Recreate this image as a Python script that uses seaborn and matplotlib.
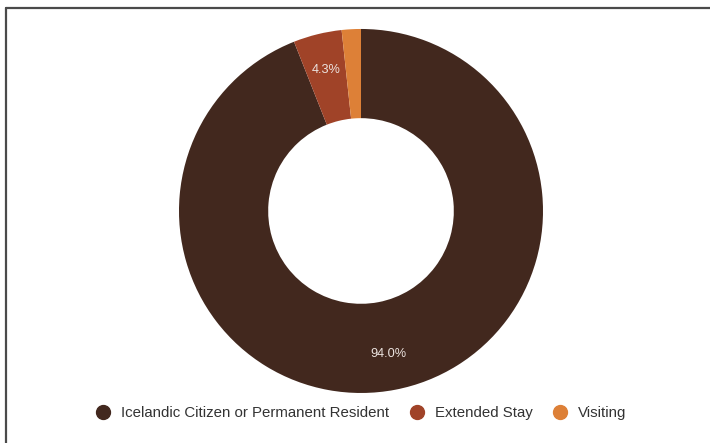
import matplotlib
matplotlib.use("Agg")
import matplotlib.pyplot as plt
from matplotlib.lines import Line2D
import seaborn as sns

categories = ["Icelandic Citizen or Permanent Resident", "Extended Stay", "Visiting"]
shares = [94.0, 4.3, 1.7]
colors = ["#42281e", "#a04328", "#dd8037"]

sns.set_theme(style="white")
plt.rcParams["font.family"] = ["Liberation Sans", "DejaVu Sans"]

fig = plt.figure(figsize=(7.1, 4.43), dpi=100)
fig.patch.set_facecolor("white")

# square axes holding the donut
ax = fig.add_axes([0.2521, 0.1129, 0.5127, 0.8217])


def fmt(p):
    return f"{p:.1f}%" if p >= 3 else ""


wedges, texts, autotexts = ax.pie(
    shares,
    colors=colors,
    startangle=90,
    counterclock=False,
    autopct=fmt,
    pctdistance=0.8,
    wedgeprops=dict(width=0.49, edgecolor="none"),
    textprops=dict(color="#ece4e0", fontsize=9.2),
)
ax.set_xlim(-1, 1)
ax.set_ylim(-1, 1)
ax.set_aspect("equal")
ax.axis("off")

handles = [
    Line2D([0], [0], marker="o", linestyle="none", markersize=10,
           markerfacecolor=c, markeredgecolor=c)
    for c in colors
]
fig.legend(
    handles, categories,
    loc="center", bbox_to_anchor=(0.5 + 6 / 710, 1 - 413 / 443),
    ncol=3, frameon=False, fontsize=10.8,
    handlelength=1.0, handletextpad=0.72, columnspacing=1.3,
    labelcolor="#333333",
)

# frame edges along top and left
fig.add_artist(Line2D([6 / 710, 1], [1 - 8 / 443, 1 - 8 / 443],
                      transform=fig.transFigure, color="#4a4a4a", linewidth=1.6))
fig.add_artist(Line2D([6 / 710, 6 / 710], [0, 1 - 8 / 443],
                      transform=fig.transFigure, color="#4a4a4a", linewidth=1.6))

fig.savefig("out.png", dpi=100, facecolor="white")
